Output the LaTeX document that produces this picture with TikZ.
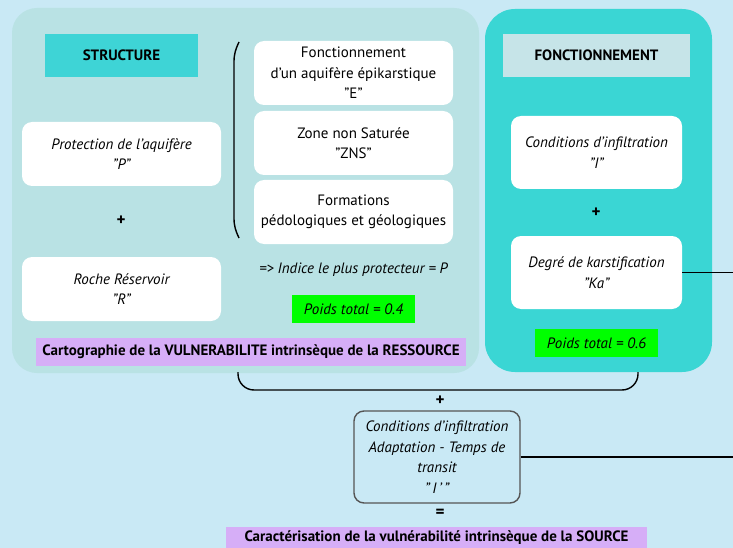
\documentclass[tikz,border=0pt]{standalone}
\usepackage{fontspec}
\setmainfont{PT Sans}
\usepackage{tikz}
\definecolor{fond}{RGB}{201,233,245}
\definecolor{panneauS}{RGB}{185,226,228}
\definecolor{panneauF}{RGB}{58,214,212}
\definecolor{titreS}{RGB}{62,212,214}
\definecolor{titreF}{RGB}{198,228,232}
\definecolor{violet}{RGB}{214,174,247}
\definecolor{vert}{RGB}{0,255,0}
\definecolor{bordgris}{RGB}{85,85,85}

\begin{document}
\begin{tikzpicture}[x=1pt,y=-1pt,
  boite/.style={fill=white,rounded corners=10pt,inner sep=0pt,align=center,
    minimum width=199pt,minimum height=64pt,font=\fontsize{15}{20.5}\selectfont},
  titre/.style={inner sep=0pt,minimum height=43pt,font=\fontsize{15}{17}\selectfont\bfseries},
  poids/.style={fill=vert,inner sep=0pt,minimum width=123pt,minimum height=28pt,
    font=\fontsize{15}{17}\selectfont\itshape},
  bandeau/.style={fill=violet,inner sep=0pt,minimum height=28pt,
    font=\fontsize{15}{17}\selectfont\bfseries},
  signe/.style={font=\fontsize{17}{17}\selectfont\bfseries},
  trait/.style={line width=1.4pt}]
\useasboundingbox (0,0) rectangle (733,548);
\clip (0,0) rectangle (733,548);
\fill[fond] (0,0) rectangle (733,548);
% les deux panneaux
\fill[panneauS,rounded corners=25pt] (12,8) rectangle (479,373);
\fill[panneauF,rounded corners=30pt] (485,9) rectangle (712,372);
% STRUCTURE
\node[titre,fill=titreS,minimum width=153pt] (structure) at (121.5,55.5) {STRUCTURE};
\node[boite,font=\fontsize{15}{20.5}\selectfont\itshape] (protection) at (121.5,154) {Protection de l'aquifère\\"P"};
\node[signe] (plusP) at (121,221) {+};
\node[boite,font=\fontsize{15}{20.5}\selectfont\itshape] (roche) at (121.5,289) {Roche Réservoir\\"R"};
\node[boite] (epikarst) at (353.5,73) {Fonctionnement\\d'un aquifère épikarstique\\"E"};
\node[boite] (zns) at (353.5,143) {Zone non Saturée\\"ZNS"};
\node[boite] (formations) at (353.5,212) {Formations\\pédologiques et géologiques};
\draw[trait] (239,42) to[out=245,in=90] (234,62) -- (234,218) to[out=-90,in=115] (239,238);
\node[font=\fontsize{15}{17}\selectfont\itshape] (indice) at (353.5,270) {=> Indice le plus protecteur = P};
\node[poids] (poidsS) at (353.5,309) {Poids total = 0.4};
\node[bandeau,minimum width=430pt] (cartoRes) at (251,352) {Cartographie de la VULNERABILITE intrinsèque de la RESSOURCE};
% FONCTIONNEMENT
\node[titre,fill=titreF,minimum width=187pt] (fonction) at (596.5,55.5) {FONCTIONNEMENT};
\node[boite,minimum width=171pt,minimum height=73pt,font=\fontsize{15}{20.5}\selectfont\itshape] (infiltr) at (596.5,152.5) {Conditions d'infiltration\\"I"};
\node[signe] (plusI) at (596,213) {+};
\node[boite,minimum width=171pt,minimum height=73pt,font=\fontsize{15}{20.5}\selectfont\itshape] (karst) at (596.5,272.5) {Degré de karstification\\"Ka"};
\node[poids] (poidsF) at (596.5,343) {Poids total = 0.6};
% accolade du bas et source
\draw[trait,rounded corners=16pt] (238,372) -- (238,390) -- (638,390) -- (638,372);
\node[signe] (plusS) at (440,401) {+};
\node[draw=bordgris,line width=1.4pt,rounded corners=10pt,inner sep=0pt,align=center,
  minimum width=166pt,minimum height=92pt,font=\fontsize{15}{20.5}\selectfont\itshape]
  (transit) at (437,457) {Conditions d'infiltration\\Adaptation - Temps de\\transit\\"\,I\,'\,"};
\node[signe] (egal) at (440,513) {=};
\node[bandeau,minimum width=421pt,minimum height=21pt] (cartoSrc) at (436.5,537.5) {Caractérisation de la vulnérabilité intrinsèque de la SOURCE};
% liaisons vers la droite
\coordinate (sortieK) at (733,274);
\coordinate (sortieT) at (733,447);
\draw[trait] (karst.east) -- (karst.east -| sortieK);
\draw[trait] (transit.east) -- (transit.east -| sortieT);
\end{tikzpicture}
\end{document}
